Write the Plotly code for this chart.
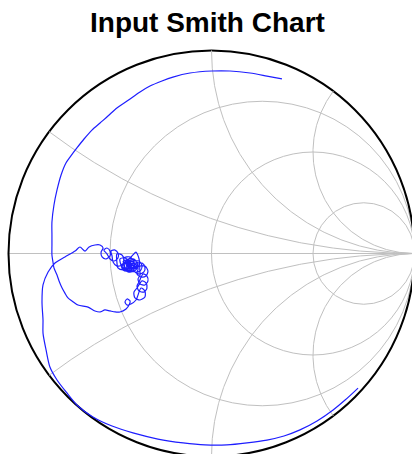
import numpy as np
import plotly.graph_objects as go

title_text = "Input Smith Chart"
resistance_values = [1/3, 1, 3]
reactance_values = [1/3, 1, 2]

gamma_re = [
    0.722, 0.658, 0.599, 0.520, 0.436, 0.357, 0.273, 0.175, 0.076, -0.032,
    -0.140, -0.264, -0.387, -0.490, -0.584, -0.658, -0.712, -0.761, -0.796, -0.815,
    -0.830, -0.830, -0.835, -0.830, -0.805, -0.771, -0.722, -0.672, -0.648, -0.623,
    -0.603, -0.574, -0.549, -0.534,
    -0.544, -0.539, -0.520, -0.500, -0.500, -0.515, -0.530,
    -0.515, -0.500, -0.480, -0.461, -0.461, -0.475, -0.495,
    -0.490, -0.485, -0.466, -0.441, -0.431, -0.441, -0.466,
    -0.466, -0.461, -0.436, -0.411, -0.406, -0.426, -0.451,
    -0.446, -0.436, -0.411, -0.387, -0.382, -0.401, -0.431,
    -0.431, -0.421, -0.397, -0.372, -0.362, -0.382, -0.411,
    -0.416, -0.406, -0.382, -0.357, -0.357, -0.372, -0.387, -0.401,
    -0.426, -0.431, -0.411, -0.387, -0.377, -0.392, -0.416,
    -0.397, -0.397, -0.377, -0.352, -0.342, -0.357, -0.382,
    -0.411, -0.411, -0.392, -0.372, -0.367, -0.382, -0.401,
    -0.441, -0.436, -0.421, -0.406, -0.401, -0.411, -0.431,
    -0.421, -0.416, -0.401, -0.387, -0.382, -0.392, -0.411,
    -0.406, -0.401, -0.387, -0.372, -0.367, -0.377, -0.397,
    -0.421, -0.416, -0.401, -0.392, -0.401, -0.416,
    -0.382, -0.382, -0.357, -0.333, -0.328, -0.342, -0.367,
    -0.441, -0.436, -0.416, -0.397, -0.401, -0.421, -0.436,
    -0.362, -0.367, -0.347, -0.323, -0.313, -0.328, -0.352,
    -0.352, -0.362, -0.352, -0.328, -0.313, -0.318, -0.337,
    -0.357, -0.367, -0.357, -0.333, -0.318, -0.323, -0.342,
    -0.367, -0.382, -0.377, -0.352, -0.328, -0.328, -0.347,
    -0.372, -0.397, -0.416, -0.426, -0.416, -0.401, -0.406,
    -0.421, -0.451, -0.475, -0.500, -0.525, -0.549, -0.574, -0.608, -0.658, -0.687,
    -0.707, -0.722, -0.736, -0.751, -0.761, -0.776, -0.781, -0.786, -0.786, -0.786,
    -0.786,
    -0.776, -0.761, -0.741, -0.717, -0.697, -0.663, -0.628, -0.589, -0.549, -0.510,
    -0.466, -0.416, -0.352, -0.303, -0.244, -0.190, -0.106, 0.002, 0.091, 0.190,
    0.273, 0.347,
]
gamma_im = [
    -0.663, -0.722, -0.771, -0.825, -0.869, -0.899, -0.919, -0.933, -0.943, -0.943,
    -0.933, -0.914, -0.884, -0.850, -0.805, -0.751, -0.687, -0.623, -0.559, -0.475,
    -0.392, -0.328, -0.239, -0.155, -0.091, -0.047, -0.017, 0.012, 0.032, 0.012,
    0.032, 0.042, 0.042, 0.027,
    0.007, -0.017, -0.027, -0.012, 0.012, 0.027, 0.017,
    -0.002, -0.027, -0.037, -0.022, 0.002, 0.017, 0.012,
    -0.012, -0.042, -0.062, -0.057, -0.032, -0.007, -0.002,
    -0.042, -0.071, -0.081, -0.071, -0.042, -0.022, -0.027,
    -0.057, -0.081, -0.086, -0.071, -0.042, -0.017, -0.022,
    -0.047, -0.081, -0.091, -0.081, -0.052, -0.027, -0.027,
    -0.042, -0.071, -0.076, -0.062, -0.027, 0.007, -0.007, -0.022,
    -0.042, -0.071, -0.091, -0.086, -0.062, -0.037, -0.037,
    -0.047, -0.076, -0.091, -0.086, -0.062, -0.037, -0.037,
    -0.042, -0.067, -0.076, -0.067, -0.047, -0.032, -0.032,
    -0.062, -0.076, -0.081, -0.076, -0.062, -0.042, -0.047,
    -0.052, -0.067, -0.071, -0.067, -0.052, -0.037, -0.037,
    -0.067, -0.081, -0.086, -0.081, -0.067, -0.052, -0.052,
    -0.071, -0.086, -0.086, -0.071, -0.057, -0.062,
    -0.057, -0.086, -0.101, -0.091, -0.067, -0.047, -0.047,
    -0.052, -0.071, -0.076, -0.062, -0.037, -0.032, -0.042,
    -0.071, -0.101, -0.116, -0.111, -0.086, -0.062, -0.062,
    -0.106, -0.126, -0.150, -0.155, -0.135, -0.111, -0.101,
    -0.140, -0.160, -0.185, -0.190, -0.170, -0.145, -0.135,
    -0.170, -0.190, -0.219, -0.229, -0.214, -0.185, -0.170,
    -0.229, -0.249, -0.254, -0.239, -0.224, -0.234, -0.254,
    -0.273, -0.288, -0.288, -0.283, -0.278, -0.288, -0.283, -0.264, -0.254, -0.234,
    -0.219, -0.195, -0.170, -0.135, -0.106, -0.071, -0.042, -0.007, 0.042, 0.091,
    0.155,
    0.239, 0.313, 0.387, 0.446, 0.475, 0.520, 0.564, 0.608, 0.643, 0.677,
    0.717, 0.751, 0.796, 0.825, 0.850, 0.869, 0.889, 0.899, 0.899, 0.889,
    0.874, 0.860,
]

W, H = 412, 454
cx_px, cy_px, R_px = 211.5, 253.5, 203.0
x_range = [(0 - cx_px) / R_px, (W - cx_px) / R_px]
y_range = [(cy_px - H) / R_px, cy_px / R_px]

grid_color = "rgb(192,192,192)"
fig = go.Figure()

shapes = []
for r in resistance_values:
    c = r / (1 + r)
    rad = 1 / (1 + r)
    shapes.append(dict(type="circle", xref="x", yref="y", x0=c - rad, x1=c + rad,
                       y0=-rad, y1=rad, line=dict(color=grid_color, width=1), layer="below"))
shapes.append(dict(type="line", xref="x", yref="y", x0=-1, x1=1, y0=0, y1=0,
                   line=dict(color=grid_color, width=1), layer="below"))
shapes.append(dict(type="circle", xref="x", yref="y", x0=-1, x1=1, y0=-1, y1=1,
                   line=dict(color="black", width=2), layer="below"))

rr = np.concatenate([[0.0], np.logspace(-3, 4, 800)])
for xv in reactance_values:
    for s in (1, -1):
        z = rr + 1j * s * xv
        g = (z - 1) / (z + 1)
        fig.add_trace(go.Scatter(x=g.real, y=g.imag, mode="lines",
                                 line=dict(color=grid_color, width=1),
                                 hoverinfo="skip", showlegend=False))

fig.add_trace(go.Scatter(x=gamma_re, y=gamma_im, mode="lines",
                         line=dict(color="rgb(30,30,255)", width=1.2, shape="spline", smoothing=0.8),
                         showlegend=False, name="S11"))

fig.update_layout(
    width=W, height=H,
    margin=dict(l=0, r=0, t=0, b=0),
    paper_bgcolor="white", plot_bgcolor="white",
    shapes=shapes,
    xaxis=dict(range=x_range, visible=False, fixedrange=True),
    yaxis=dict(range=y_range, visible=False, fixedrange=True),
    annotations=[dict(text="<b>" + title_text + "</b>", xref="paper", yref="paper",
                      x=207.5 / W, y=1 - 22 / H, xanchor="center", yanchor="middle",
                      showarrow=False,
                      font=dict(family="Liberation Sans, Arial, sans-serif", size=28, color="black"))],
)

fig.write_html("out.html", config={"displayModeBar": False},
               post_script="document.body.style.margin='0';document.body.style.overflow='hidden';")
